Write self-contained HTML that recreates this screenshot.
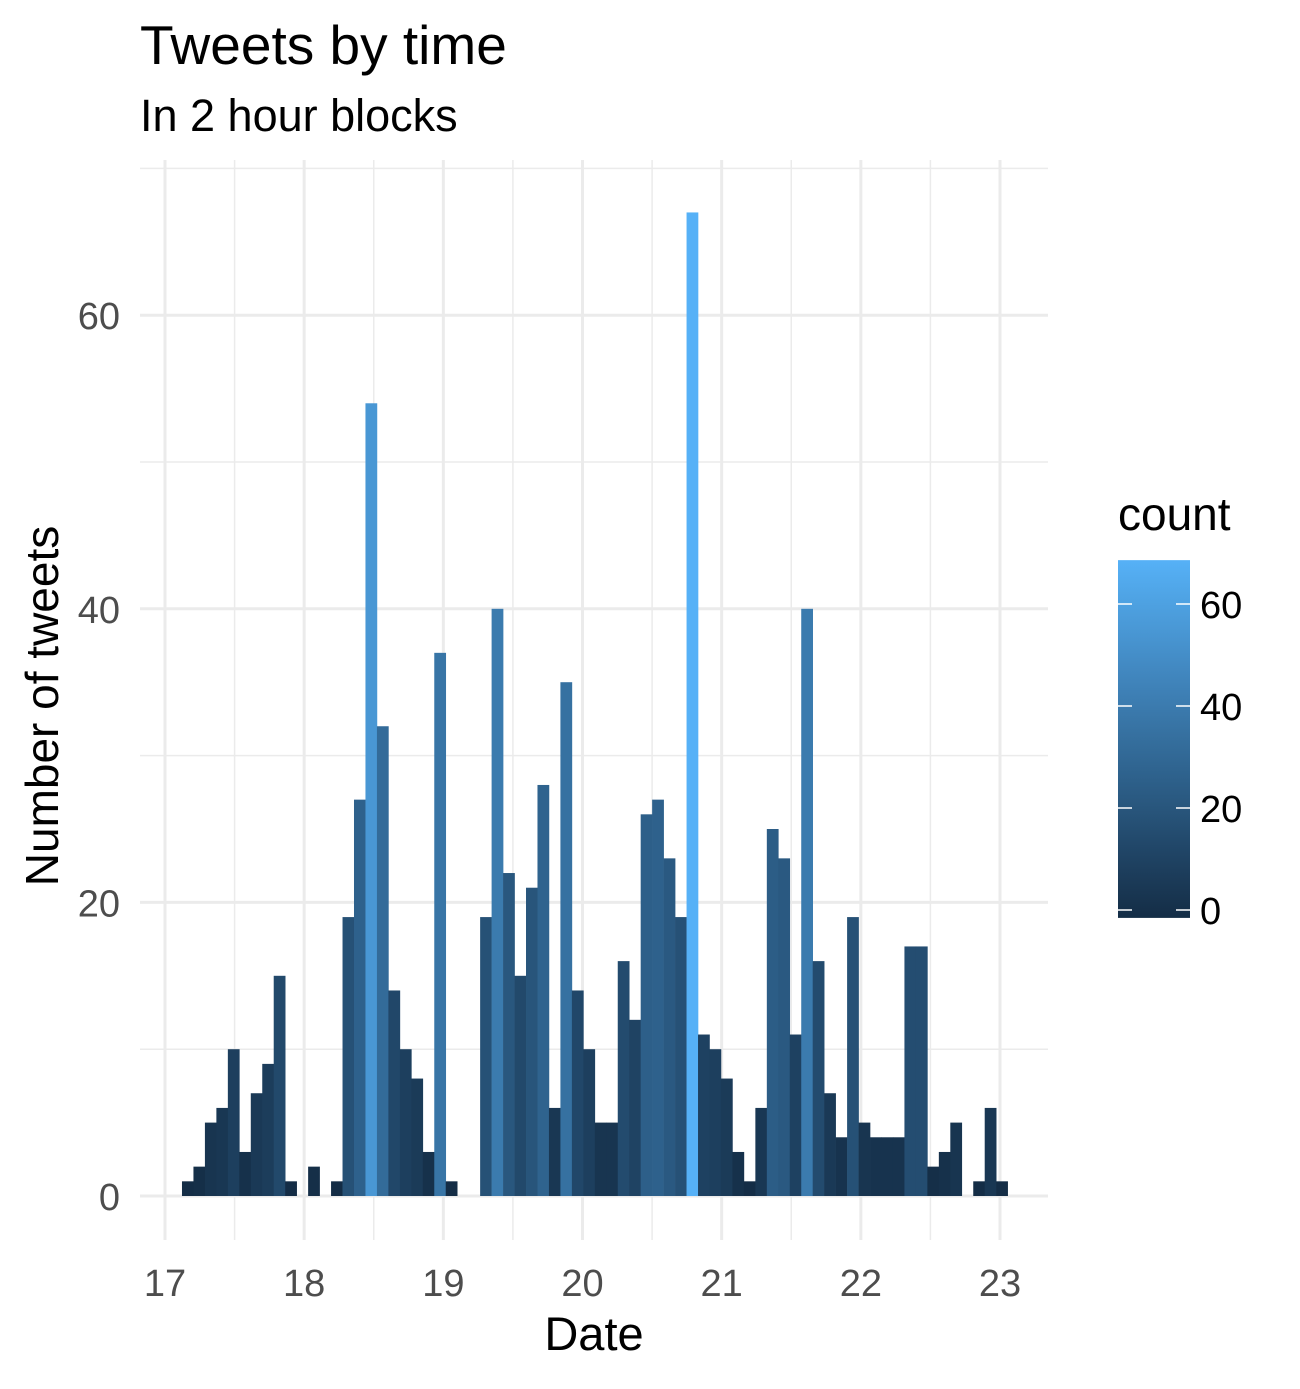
<!DOCTYPE html>
<html><head><meta charset="utf-8"><style>
body{margin:0;background:#fff;}
svg text{font-family:"Liberation Sans",Arial,sans-serif;}
</style></head><body>
<svg id="chart" width="1300" height="1384" viewBox="0 0 1300 1384" xmlns="http://www.w3.org/2000/svg">
<text x="140" y="64" font-size="55" fill="#000">Tweets by time</text>
<text x="140" y="131" font-size="45" fill="#000">In 2 hour blocks</text>
<g id="grid"></g><g id="bars"></g><g id="axes"></g><g id="legend"></g>
<text x="594" y="1350" font-size="47" text-anchor="middle" fill="#000">Date</text>
<text transform="translate(58,706) rotate(-90)" font-size="46" text-anchor="middle" fill="#000">Number of tweets</text>
</svg>
<script>
const counts=[1,2,5,6,10,3,7,9,15,1,0,2,0,1,19,27,54,32,14,10,8,3,37,1,0,0,19,40,22,15,21,28,6,35,14,10,5,5,16,12,26,27,23,19,67,11,10,8,3,1,6,25,23,11,40,16,7,4,19,5,4,4,4,17,17,2,3,5,0,1,6,1];
const firstBinDay=17.122;
const binDays=0.0824;
const xTicks=[17,18,19,20,21,22,23];
const yTicks=[0,20,40,60];
const legendTicks=[0,20,40,60];
const NS="http://www.w3.org/2000/svg";
const X=d=>165+(d-17)*139.17;
const Y=v=>1196-v*14.68;
function mk(tag,attrs,parent){const e=document.createElementNS(NS,tag);for(const k in attrs)e.setAttribute(k,attrs[k]);parent.appendChild(e);return e;}
function col(v){const t=Math.max(0,Math.min(1,v/67));const a=[19,43,67],b=[86,177,247];return `rgb(${a.map((c,i)=>Math.round(c+(b[i]-c)*t)).join(',')})`;}
const grid=document.getElementById('grid'),bars=document.getElementById('bars'),axes=document.getElementById('axes'),leg=document.getElementById('legend');
for(let v=10;v<=70;v+=20){const l=mk('line',{x1:140,x2:1048,y1:Y(v),y2:Y(v),stroke:'#ebebeb','stroke-width':1.5},grid);
}
for(let d=17.5;d<23;d+=1){const l=mk('line',{x1:X(d),x2:X(d),y1:160,y2:1240,stroke:'#ebebeb','stroke-width':1.5},grid);
}
yTicks.forEach(v=>{const l=mk('line',{x1:140,x2:1048,y1:Y(v),y2:Y(v),stroke:'#ebebeb','stroke-width':3},grid);

const t=mk('text',{x:120,y:Y(v)+14,'font-size':38,'text-anchor':'end',fill:'#4d4d4d'},axes);t.textContent=v;
});
xTicks.forEach(d=>{const l=mk('line',{x1:X(d),x2:X(d),y1:160,y2:1240,stroke:'#ebebeb','stroke-width':3},grid);

const t=mk('text',{x:X(d),y:1296,'font-size':38,'text-anchor':'middle',fill:'#4d4d4d'},axes);t.textContent=d;
});
counts.forEach((c,i)=>{if(c<=0)return;const x0=X(firstBinDay+i*binDays),x1=X(firstBinDay+(i+1)*binDays);
const r=mk('rect',{x:x0,y:Y(c),width:x1-x0+0.3,height:Y(0)-Y(c),fill:col(c)},bars);
});
const t=mk('text',{x:1118,y:530,'font-size':46,fill:'#000'},leg);t.textContent='count';

const LY=v=>910-v*5.1;
const defs=mk('defs',{},leg);const g=mk('linearGradient',{id:'cg',x1:0,y1:1,x2:0,y2:0},defs);
for(let s=0;s<=10;s++){mk('stop',{offset:s/10,'stop-color':col(1+66*s/10)},g);}
const cb=mk('rect',{x:1118,y:LY(68.6),width:72,height:LY(1)-LY(68.6)+13,fill:'url(#cg)'},leg);

legendTicks.forEach(v=>{const a=mk('line',{x1:1118,x2:1132,y1:LY(v),y2:LY(v),stroke:'#fff','stroke-width':1.5},leg);

const b=mk('line',{x1:1176,x2:1190,y1:LY(v),y2:LY(v),stroke:'#fff','stroke-width':1.5},leg);

const tt=mk('text',{x:1200,y:LY(v)+14,'font-size':38,fill:'#000'},leg);tt.textContent=v;
});
</script>
</body></html>
